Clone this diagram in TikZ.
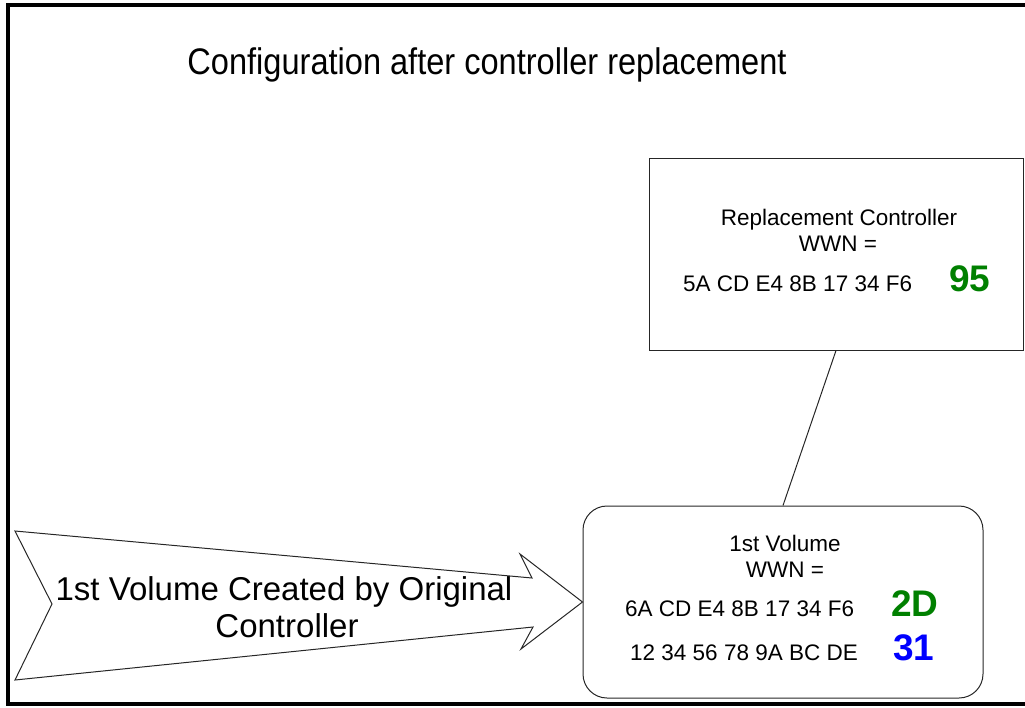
\documentclass[tikz,border=0pt]{standalone}
\usepackage{fontspec}
\setmainfont{Liberation Sans}
\usetikzlibrary{calc}
\definecolor{wwngreen}{RGB}{0,128,0}
\definecolor{wwnblue}{RGB}{0,0,255}
\tikzset{
  outline/.style={draw=black!85, line width=1pt},
  txt/.style={anchor=base, inner sep=0pt, font=\fontsize{22.5}{26}\selectfont},
  big/.style={anchor=base, inner sep=0pt, font=\fontsize{33}{37}\selectfont},
  code/.style={anchor=base west, inner sep=0pt, font=\fontsize{37}{40}\selectfont\bfseries},
}
\begin{document}
\begin{tikzpicture}[x=1pt, y=-1pt]
  \useasboundingbox (0,0) rectangle (1025,707);
  % outer frame, open on the right
  \begin{scope}
    \clip (0,0) rectangle (1025,707);
    \draw[line width=4.5pt] (1040,5) -- (8,5) -- (8,704) -- (1040,704);
  \end{scope}

  % title
  \node[anchor=base, inner sep=0pt, font=\fontsize{37}{40}\selectfont, xscale=0.88] (title) at (487,74)
    {Configuration after controller replacement};

  % replacement controller box
  \node[outline, minimum width=374pt, minimum height=192pt, inner sep=0pt] (repl) at (836,254) {};
  \node[txt] (replname) at (839,225) {Replacement Controller};
  \node[txt] (replwwn) at (838,251) {WWN =};
  \node[txt, anchor=base west] (replhex) at (683,291) {5A CD E4 8B 17 34 F6};
  \node[code, text=wwngreen] (replcode) at (949,291) {95};

  % first volume box
  \node[outline, rounded corners=24pt, minimum width=400pt, minimum height=192pt, inner sep=0pt] (vol) at (783,602) {};
  \node[txt] (volname) at (785,551) {1st Volume};
  \node[txt] (volwwn) at (785,577) {WWN =};
  \node[txt, anchor=base west] (volhexa) at (625,616) {6A CD E4 8B 17 34 F6};
  \node[code, text=wwngreen] (volcodea) at (891,616) {2D};
  \node[txt, anchor=base west] (volhexb) at (630,660) {12 34 56 78 9A BC DE};
  \node[code, text=wwnblue] (volcodeb) at (893,660) {31};

  % link between controller and volume
  \draw[outline] (repl.south) -- (vol.north);

  % notched block arrow pointing at the volume
  \coordinate (tip) at (vol.west);
  \draw[outline, line join=miter] (15,531) -- (532,578) -- (520,554) -- (tip)
    -- (521,649) -- (533,627) -- (15,680) -- (52,604) -- cycle;
  \node[big] (arrowa) at (284,600) {1st Volume Created by Original};
  \node[big] (arrowb) at (287,637) {Controller};
\end{tikzpicture}
\end{document}
